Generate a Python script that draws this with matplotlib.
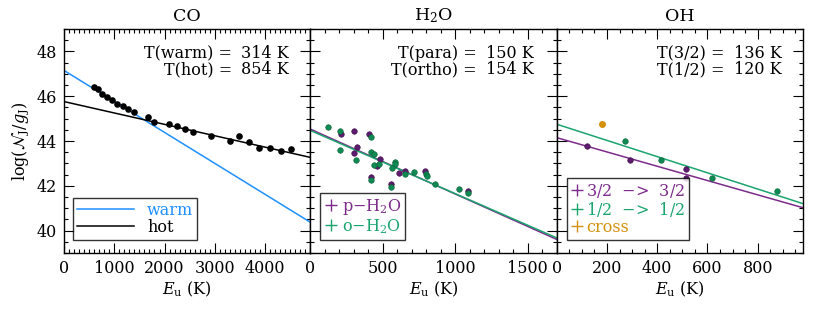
import numpy as np
import matplotlib
matplotlib.use("Agg")
import matplotlib.pyplot as plt
from matplotlib.lines import Line2D
from matplotlib.ticker import MultipleLocator

plt.rcParams['font.family'] = ['DejaVu Serif']
plt.rcParams['mathtext.fontset'] = 'dejavuserif'

# ---- data ----
co_E = [598, 671, 763, 857, 956, 1056, 1169, 1281, 1400, 1667, 1799, 2098, 2245,
        2410, 2564, 2922, 3293, 3480, 3679, 3884, 4090, 4309, 4522]
co_logN = [46.39, 46.32, 46.11, 45.96, 45.84, 45.67, 45.57, 45.44, 45.29, 45.06,
           44.87, 44.77, 44.68, 44.53, 44.39, 44.23, 44.02, 44.23, 43.97, 43.68,
           43.69, 43.57, 43.65]
co_T = {'warm': 314, 'hot': 854}
co_icpt = {'warm': 47.15, 'hot': 45.76}

para_E = [209, 302, 404, 325, 302, 481, 460, 611, 655, 792, 418, 560, 1085]
para_logN = [44.30, 44.45, 44.30, 43.75, 43.45, 43.18, 42.90, 42.59, 42.66, 42.68,
             42.41, 42.07, 41.78]
ortho_E = [121, 202, 418, 202, 418, 441, 314, 476, 441, 585, 585, 562, 655, 713,
           801, 808, 857, 418, 560, 1029, 1085]
ortho_logN = [44.63, 44.45, 44.20, 43.59, 43.50, 43.41, 43.15, 42.96, 42.92, 43.08,
              42.98, 42.81, 42.53, 42.63, 42.53, 42.45, 42.07, 42.26, 41.96, 41.84,
              41.66]
h2o_T = {'para': 150, 'ortho': 154}
h2o_icpt = {'para': 44.53, 'ortho': 44.47}

oh32_E = [120, 291, 514, 514]
oh32_logN = [43.79, 43.15, 42.75, 42.34]
oh12_E = [271, 416, 618, 877]
oh12_logN = [43.99, 43.15, 42.34, 41.75]
cross_E = [182]
cross_logN = [44.76]
oh_T = {'3/2': 136, '1/2': 120}
oh_icpt = {'3/2': 44.15, '1/2': 44.75}

blue = '#1E90FF'
purple = '#7D2B8B'
green = '#1AA56E'
orange = '#D4920C'
purple_dot = '#5E1A6E'
green_dot = '#0F8A52'

FS = 11.5


def fit_line(ax, icpt, T, xmax, color):
    e = np.array([0, xmax])
    ax.plot(e, icpt - e / (T * np.log(10)), color=color, lw=1.1)


def style(ax, xmax, major, minor):
    ax.set_xlim(0, xmax)
    ax.set_ylim(39, 49)
    ax.xaxis.set_major_locator(MultipleLocator(major))
    ax.xaxis.set_minor_locator(MultipleLocator(minor))
    ax.yaxis.set_major_locator(MultipleLocator(2))
    ax.yaxis.set_minor_locator(MultipleLocator(0.5))
    ax.tick_params(which='both', direction='in', top=True, right=True,
                   labelsize=FS, width=0.8)
    ax.tick_params(which='major', length=7, pad=5)
    ax.tick_params(which='minor', length=3)
    for s in ax.spines.values():
        s.set_linewidth(1.0)
    ax.set_xlabel(r'$E_{\rm u}$ (K)', fontsize=FS, labelpad=2)


def legend(ax, handles, labels, anchor, hl, htp):
    leg = ax.legend(handles, labels, loc='lower left', bbox_to_anchor=anchor,
                    fontsize=FS, labelcolor='linecolor', frameon=True,
                    fancybox=False, edgecolor='black', handlelength=hl,
                    borderpad=0.25, labelspacing=0.0, handletextpad=htp,
                    borderaxespad=0)
    leg.get_frame().set_linewidth(1.0)


def temps(ax, names, values, x_split):
    # "T(x) =" right-aligned and "NNN K" left-aligned, so the '=' line up
    for row, (name, val) in enumerate(zip(names, values)):
        y = 0.869 - 0.072 * row
        kw = dict(transform=ax.transAxes, va='baseline', fontsize=FS)
        ax.text(x_split, y, f'T({name}) =', ha='right', **kw)
        ax.text(x_split + 0.035, y, f'{val} K', ha='left', **kw)


fig, axes = plt.subplots(1, 3, figsize=(8.3, 3.12), dpi=100, sharey=True)
fig.subplots_adjust(left=64 / 830, right=803 / 830, bottom=1 - 253 / 312,
                    top=1 - 29 / 312, wspace=0)

# CO
ax = axes[0]
style(ax, 4900, 1000, 100)
fit_line(ax, co_icpt['warm'], co_T['warm'], 4900, blue)
fit_line(ax, co_icpt['hot'], co_T['hot'], 4900, 'black')
ax.scatter(co_E, co_logN, s=14, color='black', zorder=3)
ax.set_title('CO', fontsize=12.5, pad=6)
temps(ax, list(co_T), list(co_T.values()), 0.682)
ax.set_ylabel(r'log($\mathcal{N}_{\rm J}/g_{\rm J}$)', fontsize=FS)
h = [Line2D([], [], color=blue, lw=1.1), Line2D([], [], color='black', lw=1.1)]
legend(ax, h, ['warm', 'hot'], (0.035, 0.06), 3.6, 0.8)

# H2O
ax = axes[1]
style(ax, 1700, 500, 100)
fit_line(ax, h2o_icpt['para'], h2o_T['para'], 1700, purple)
fit_line(ax, h2o_icpt['ortho'], h2o_T['ortho'], 1700, green)
ax.scatter(para_E, para_logN, s=16, color=purple_dot, edgecolor='#3a0f45',
           linewidth=0.4, zorder=3)
ax.scatter(ortho_E, ortho_logN, s=16, color=green_dot, edgecolor='#0a5a35',
           linewidth=0.4, zorder=3)
ax.set_title(r'H$_2$O', fontsize=12.5, pad=6)
temps(ax, list(h2o_T), list(h2o_T.values()), 0.677)
h = [Line2D([], [], color=purple, marker='+', ls='none', ms=8),
     Line2D([], [], color=green, marker='+', ls='none', ms=8)]
legend(ax, h, [r'p$-$H$_2$O', r'o$-$H$_2$O'], (0.04, 0.06), 0.8, 0.3)

# OH
ax = axes[2]
style(ax, 980, 200, 50)
fit_line(ax, oh_icpt['3/2'], oh_T['3/2'], 980, purple)
fit_line(ax, oh_icpt['1/2'], oh_T['1/2'], 980, green)
ax.scatter(oh32_E, oh32_logN, s=16, color=purple_dot, edgecolor='#3a0f45',
           linewidth=0.4, zorder=3)
ax.scatter(oh12_E, oh12_logN, s=16, color=green_dot, edgecolor='#0a5a35',
           linewidth=0.4, zorder=3)
ax.scatter(cross_E, cross_logN, s=16, color=orange, zorder=3)
ax.set_title('OH', fontsize=12.5, pad=6)
temps(ax, list(oh_T), list(oh_T.values()), 0.683)
h = [Line2D([], [], color=purple, marker='+', ls='none', ms=8),
     Line2D([], [], color=green, marker='+', ls='none', ms=8),
     Line2D([], [], color=orange, marker='+', ls='none', ms=8)]
legend(ax, h, ['3/2  $-$>  3/2', '1/2  $-$>  1/2', 'cross'], (0.04, 0.06), 0.8, 0.2)

for ax in axes[1:]:
    ax.tick_params(labelleft=False)

fig.savefig('out.png', dpi=100)
